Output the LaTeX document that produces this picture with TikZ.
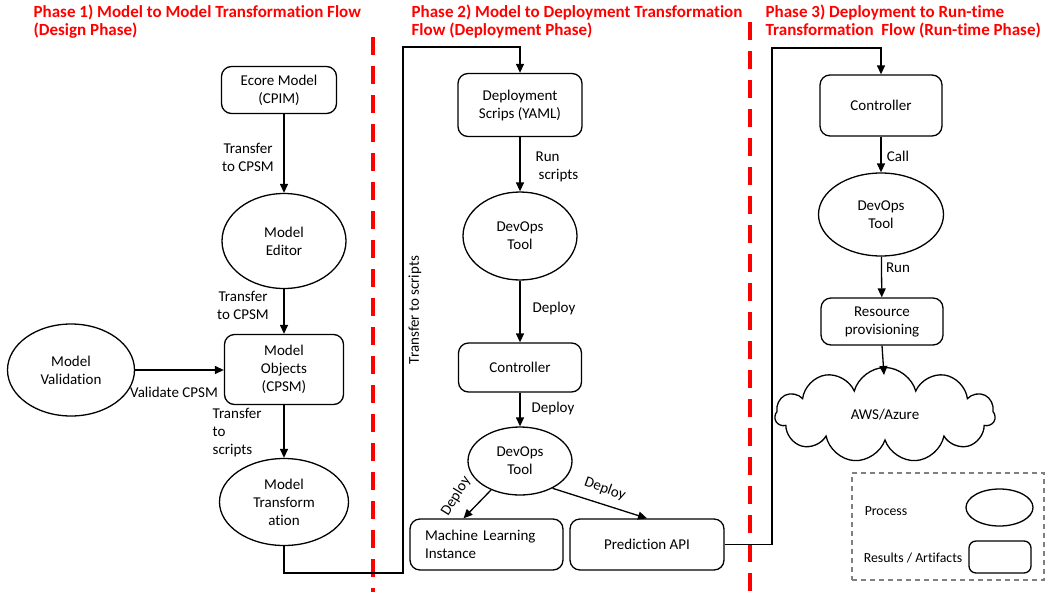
\documentclass[tikz,border=0pt]{standalone}
\usepackage{fontspec}
\setmainfont{Carlito}[Ligatures={NoCommon,NoRequired,NoContextual}]
\usetikzlibrary{shapes.geometric,shapes.symbols,arrows.meta,calc}

\begin{document}
\begin{tikzpicture}[x=1pt,y=-1pt,
  font=\fontsize{15}{18}\selectfont,
  line width=1.3pt,
  >={Triangle[length=9pt,width=8pt]},
  box/.style={draw, rounded corners=10pt, align=center, inner sep=0pt},
  proc/.style={draw, ellipse, align=center, inner sep=0pt},
  lbl/.style={align=left, inner sep=0pt},
  title/.style={text=red, font=\fontsize{17}{18}\selectfont\bfseries, align=left, anchor=north west, inner sep=0pt},
  phase/.style={draw=red, line width=4pt, dash pattern=on 18pt off 11pt},
  legendtext/.style={inner sep=0pt, font=\fontsize{13.8}{16}\selectfont},
]
\useasboundingbox (0,0) rectangle (1049,592);

% phase titles
\node[title] (t1) at (33,4) {Phase 1) Model to Model Transformation Flow\\(Design Phase)};
\node[title] (t2) at (411,4) {Phase 2) Model to Deployment Transformation\\Flow (Deployment Phase)};
\node[title] (t3) at (765,4) {Phase 3) Deployment to Run-time\\Transformation~~Flow (Run-time Phase)};

% phase separators
\draw[phase] (373,37) -- (373,592);
\draw[phase] (750,22) -- (750,592);

% phase 1
\node[box, minimum width=115pt, minimum height=47pt] (ecore) at (279,90) {Ecore Model\\(CPIM)};
\node[proc, minimum width=124pt, minimum height=95pt] (editor) at (284,241) {Model\\Editor};
\node[box, minimum width=119pt, minimum height=70pt] (objects) at (284,369.5) {Model\\Objects\\(CPSM)};
\node[proc, minimum width=127pt, minimum height=92pt] (valid) at (71,370) {Model\\Validation};
\node[proc, minimum width=129pt, minimum height=87pt] (transf) at (284,502) {Model\\Transform\\ation};

% phase 2
\node[box, minimum width=124pt, minimum height=63pt] (scripts) at (520,105) {Deployment\\Scrips (YAML)};
\node[proc, minimum width=114pt, minimum height=88pt] (dev1) at (520,236) {DevOps\\Tool};
\node[box, minimum width=123pt, minimum height=49pt] (ctrl2) at (520,367.5) {Controller};
\node[proc, minimum width=104pt, minimum height=68pt] (dev2) at (520,461) {DevOps\\Tool};
\node[box, minimum width=153pt, minimum height=51pt, text width=123pt, align=left] (ml) at (486.5,544.5) {Machine Learning\\Instance};
\node[box, minimum width=154pt, minimum height=51pt] (pred) at (647,544.5) {Prediction API};

% phase 3
\node[box, minimum width=122pt, minimum height=61pt] (ctrl3) at (881,105.5) {Controller};
\node[proc, minimum width=125pt, minimum height=83pt] (dev3) at (881,214.5) {DevOps\\Tool};
\node[box, minimum width=122pt, minimum height=47pt] (res) at (882,321.5) {Resource\\provisioning};
\node[draw, cloud, cloud puffs=11, aspect=2.3, minimum width=220pt, minimum height=95pt, inner sep=0pt] (cloud) at (885,415) {AWS/Azure};

% routing points
\coordinate (c1) at (403,573);
\coordinate (c2) at (403,47);
\coordinate (c3) at (772,544.5);
\coordinate (c4) at (772,48);

% phase 1 connectors
\draw[->] (ecore.south -| editor.north) -- (editor.north);
\draw[->] (editor) -- (objects);
\draw[->] (valid.east) -- (valid.east -| objects.west);
\draw[->] (objects) -- (transf);
\draw[->] (transf.south) |- (c1) -- node[midway, rotate=90, anchor=north, inner sep=5pt] (lts) {Transfer to scripts} (c2) -| (scripts.north);

% phase 2 connectors
\draw[->] (scripts) -- (dev1);
\draw[->] (dev1) -- (ctrl2);
\draw[->] (ctrl2) -- (dev2);
\draw[->] (dev2.-135) -- ($(ml.north)+(-23,0)$);
\draw[->] (dev2.-40) -- (pred.north);
\draw[->] (pred.east) -- (c3) -- (c4) -| (ctrl3.north);

% phase 3 connectors
\draw[->] (ctrl3) -- (dev3);
\draw[->] (dev3) -- (res);
\draw[->] (res.south) -- ($(cloud.center)+(-1,-40)$);

% connector labels
\node[lbl, align=center] (l1) at (248,157) {Transfer\\to CPSM};
\node[lbl, align=center] (l2) at (243,305) {Transfer\\to CPSM};
\node[lbl] (l3) at (174,392) {Validate CPSM};
\node[lbl, anchor=west] (l4) at (212,433) {Transfer\\to\\scripts};
\node[lbl, anchor=west] (l5) at (535,167) {Run\\\hspace*{3pt}scripts};
\node[lbl] (l6) at (554,308) {Deploy};
\node[lbl] (l7) at (553,408) {Deploy};
\node[lbl, rotate=58] (l8) at (456,496) {Deploy};
\node[lbl, rotate=-20] (l9) at (605,489) {Deploy};
\node[lbl] (l10) at (898,156) {Call};
\node[lbl] (l11) at (898,268) {Run};

% legend
\node[draw=gray, dash pattern=on 5pt off 4pt, minimum width=192pt, minimum height=107pt] (legend) at (948,526.5) {};
\node[legendtext] (lp) at (886,511) {Process};
\node[proc, minimum width=67pt, minimum height=37pt] (lpe) at (999.5,507.5) {};
\node[legendtext] (lr) at (913,558) {Results / Artifacts};
\node[box, minimum width=62pt, minimum height=32pt, rounded corners=7pt] (lrb) at (1000,557) {};
\end{tikzpicture}
\end{document}
